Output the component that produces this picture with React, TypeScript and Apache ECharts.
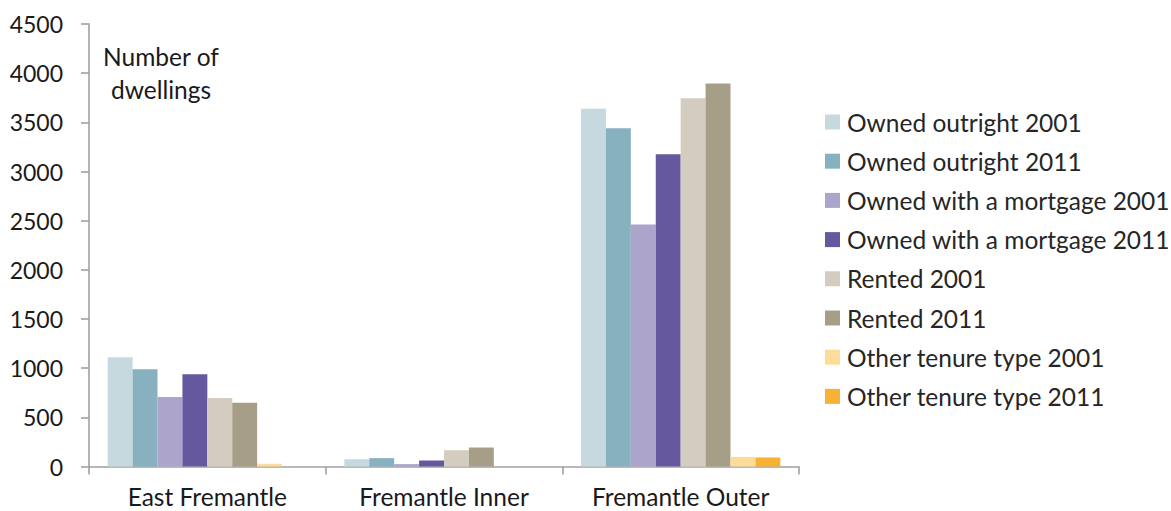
import React, { useEffect, useRef } from "react";
import * as echarts from "echarts";

const categories = ["East Fremantle", "Fremantle Inner", "Fremantle Outer"];
const seriesNames = [
  "Owned outright 2001",
  "Owned outright 2011",
  "Owned with a mortgage 2001",
  "Owned with a mortgage 2011",
  "Rented 2001",
  "Rented 2011",
  "Other tenure type 2001",
  "Other tenure type 2011",
];
const ownedOutright2001 = [1110, 74, 3637];
const ownedOutright2011 = [988, 85, 3441];
const mortgage2001 = [707, 24, 2461];
const mortgage2011 = [937, 61, 3176];
const rented2001 = [697, 166, 3746];
const rented2011 = [649, 193, 3895];
const other2001 = [28, 0, 98];
const other2011 = [0, 0, 92];
const colors = ["#C6D9DF", "#88B1BF", "#ADA4CC", "#66589E", "#D4CDBF", "#A69E86", "#FDDB9A", "#F7B134"];
const yTicks = { min: 0, max: 4500, interval: 500 };

const FONT = "Lato";

export default function App() {
  const ref = useRef<HTMLDivElement>(null);
  useEffect(() => {
    const chart = echarts.init(ref.current!, null, { renderer: "svg" });
    const values = [ownedOutright2001, ownedOutright2011, mortgage2001, mortgage2011, rented2001, rented2011, other2001, other2011];
    chart.setOption({
      animation: false,
      textStyle: { fontFamily: FONT },
      grid: { left: 89, right: 372, top: 24, bottom: 44.5, containLabel: false },
      legend: {
        orient: "vertical",
        left: 825,
        top: 109,
        padding: 0,
        itemWidth: 15,
        itemHeight: 15,
        itemGap: 13.2,
        icon: "rect",
        data: seriesNames,
        textStyle: { fontFamily: FONT, fontSize: 24.5, color: "#262626", lineHeight: 26, padding: [0, 0, 0, 2] },
      },
      xAxis: {
        type: "category",
        data: categories,
        axisLine: { show: true, lineStyle: { color: "#A0A0A0", width: 1.6 } },
        axisTick: { show: true, length: 8, lineStyle: { color: "#A0A0A0", width: 1.6 } },
        axisLabel: { fontFamily: FONT, fontSize: 24.5, lineHeight: 24, color: "#1a1a1a", margin: 18 },
      },
      yAxis: {
        type: "value",
        min: yTicks.min,
        max: yTicks.max,
        interval: yTicks.interval,
        splitLine: { show: false },
        axisLine: { show: true, lineStyle: { color: "#A0A0A0", width: 1.6 } },
        axisTick: { show: true, length: 8, lineStyle: { color: "#A0A0A0", width: 1.6 } },
        axisLabel: { fontFamily: FONT, fontSize: 23, color: "#1a1a1a", margin: 26, formatter: (v: number) => String(v) },
      },
      graphic: [
        {
          type: "text",
          x: 161,
          y: 40,
          style: {
            text: "Number of\ndwellings",
            fontFamily: FONT,
            fontSize: 24.5,
            lineHeight: 33,
            fill: "#1a1a1a",
            align: "center",
            verticalAlign: "top",
          },
        },
      ],
      series: seriesNames.map((name, i) => ({
        name,
        type: "bar",
        data: values[i],
        barGap: "0%",
        barCategoryGap: "15.8%",
        itemStyle: { color: colors[i] },
      })),
    });
    return () => chart.dispose();
  }, []);
  return <div ref={ref} style={{ position: "fixed", left: 0, top: 0, width: 1171, height: 511, background: "#fff" }} />;
}
